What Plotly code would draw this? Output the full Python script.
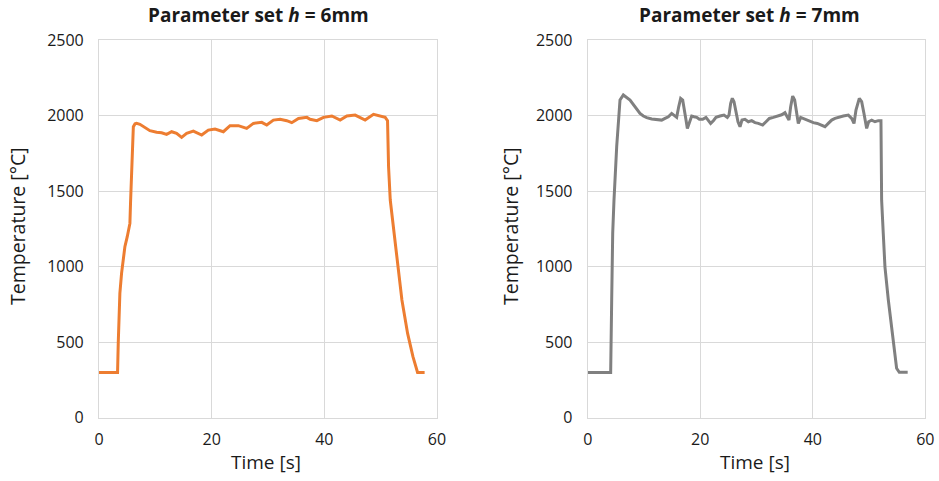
import plotly.graph_objects as go

# Temperature history, parameter set h = 6 mm
time_6mm = [0, 3.30, 3.42, 3.60, 3.71, 4.01, 4.31, 4.60, 5.02, 5.37, 5.49, 5.60, 5.80, 6.00,
            6.10, 6.40, 6.68, 7.27, 8.16, 9.04, 10.23, 11.12, 12.00, 12.90, 13.78, 14.67,
            15.56, 16.75, 18.23, 19.41, 20.60, 22.08, 23.26, 24.74, 26.22, 27.41, 28.89,
            29.78, 30.96, 32.15, 33.33, 34.22, 35.41, 36.30, 36.90, 37.48, 38.67, 39.85,
            41.33, 42.81, 44.00, 45.47, 47.24, 48.73, 49.91, 50.80, 51.22, 51.40, 51.70,
            52.35, 53.18, 53.77, 54.78, 55.73, 56.55, 57.80]
temp_6mm = [300, 300, 492, 713, 823, 955, 1066, 1132, 1198, 1253, 1286, 1420, 1600, 1850,
            1926, 1945, 1948, 1942, 1922, 1900, 1889, 1886, 1875, 1893, 1882, 1856,
            1882, 1897, 1871, 1904, 1911, 1893, 1933, 1933, 1915, 1948, 1955,
            1937, 1970, 1975, 1966, 1953, 1981, 1986, 1988, 1975, 1966, 1988,
            1997, 1970, 1997, 2003, 1970, 2008, 1997, 1988, 1966, 1661, 1441,
            1230, 1000, 779, 558, 404, 300, 300]

# Temperature history, parameter set h = 7 mm
time_7mm = [0, 4.08, 4.26, 4.44, 4.67, 5.15, 5.74, 6.33, 7.52, 8.41, 9.29, 9.89, 10.48,
            11.37, 12.26, 13.15, 13.74, 14.33, 14.92, 15.40, 15.81, 16.17, 16.52, 16.88,
            17.23, 17.47, 17.71, 18.06, 18.48, 18.89, 19.37, 19.84, 20.43, 21.02, 21.44,
            21.85, 22.33, 22.80, 23.51, 24.22, 24.81, 25.11, 25.41, 25.70, 26.00, 26.36,
            26.71, 27.07, 27.42, 27.95, 28.55, 29.14, 29.73, 30.32, 31.09, 31.69, 32.28,
            32.99, 33.70, 34.47, 35.06, 35.48, 35.77, 36.07, 36.43, 36.78, 37.14, 37.43,
            37.85, 38.32, 38.91, 39.51, 40.10, 40.81, 41.58, 42.17, 42.76, 43.36, 43.95,
            44.54, 45.43, 46.32, 46.91, 47.33, 47.68, 48.27, 48.69, 49.10, 49.58, 49.93,
            50.47, 51.06, 51.65, 52.12, 52.24, 52.53, 52.83, 53.43, 54.31, 54.90, 55.38,
            56.87]
temp_7mm = [300, 300, 779, 1220, 1440, 1794, 2103, 2136, 2103, 2058, 2014, 1997, 1986,
            1977, 1975, 1970, 1981, 1992, 2014, 1997, 1988, 2058, 2114, 2103,
            2036, 1970, 1915, 1959, 1997, 1992, 1988, 1975, 1975, 1988, 1966,
            1948, 1966, 1988, 1997, 2003, 1988, 2003, 2081, 2114, 2092, 2025,
            1959, 1926, 1970, 1975, 1959, 1966, 1953, 1948, 1937, 1959, 1981,
            1988, 1997, 2005, 2019, 1992, 1970, 2058, 2129, 2103, 2014, 1948,
            1988, 1981, 1970, 1959, 1953, 1948, 1937, 1926, 1948, 1970, 1981,
            1988, 1997, 2003, 1981, 1948, 2036, 2114, 2092, 2014, 1915, 1959,
            1970, 1959, 1966, 1966, 1440, 1220, 999, 779, 492, 327, 301,
            301]

x_ticks = [0, 20, 40, 60]
y_ticks = [0, 500, 1000, 1500, 2000, 2500]

FONT = "Open Sans"
GRID = "#D9D9D9"
TEXT = "#1a1a1a"

fig = go.Figure()
fig.add_trace(go.Scatter(x=time_6mm, y=temp_6mm, mode="lines",
                         line=dict(color="#ED7D31", width=3), xaxis="x", yaxis="y",
                         showlegend=False))
fig.add_trace(go.Scatter(x=time_7mm, y=temp_7mm, mode="lines",
                         line=dict(color="#808080", width=3), xaxis="x2", yaxis="y2",
                         showlegend=False))

def x_axis(domain, anchor):
    return dict(domain=domain, anchor=anchor, range=[0, 60], tickvals=x_ticks,
                showgrid=True, gridcolor=GRID, gridwidth=1, showline=True, linecolor=GRID,
                linewidth=1, mirror=True, zeroline=False, ticks="", ticklabelstandoff=7,
                tickfont=dict(family=FONT, size=16, color=TEXT), automargin=False)

def y_axis(domain, anchor):
    return dict(domain=domain, anchor=anchor, range=[0, 2500], tickvals=y_ticks,
                showgrid=True, gridcolor=GRID, gridwidth=1, showline=True, linecolor=GRID,
                linewidth=1, mirror=True, zeroline=False, ticks="", ticklabelstandoff=11,
                tickfont=dict(family=FONT, size=16, color=TEXT), automargin=False)

y_dom = [0.1316, 0.9168]
fig.update_layout(
    width=939, height=481,
    margin=dict(l=0, r=0, t=0, b=0),
    paper_bgcolor="white", plot_bgcolor="white",
    xaxis=x_axis([0.1054, 0.4654], "y"),
    yaxis=y_axis(y_dom, "x"),
    xaxis2=x_axis([0.6259, 0.9854], "y2"),
    yaxis2=y_axis(y_dom, "x2"),
)

def add_text(x_px, y_px, text, size, angle=0):
    fig.add_annotation(x=x_px / 939, y=1 - y_px / 481, xref="paper", yref="paper",
                       text=text, showarrow=False, textangle=angle,
                       xanchor="center", yanchor="middle",
                       font=dict(family=FONT, size=size, color=TEXT))

# Panel titles
add_text(258, 15, "<b>Parameter set <i>h</i> = 6mm</b>", 19)
add_text(749, 15, "<b>Parameter set <i>h</i> = 7mm</b>", 19)
# Axis titles
add_text(17, 226, "Temperature [°C]", 19.5, angle=-90)
add_text(510, 226, "Temperature [°C]", 19.5, angle=-90)
add_text(266, 462, "Time [s]", 19)
add_text(755, 462, "Time [s]", 19)

fig.write_html("out.html")
